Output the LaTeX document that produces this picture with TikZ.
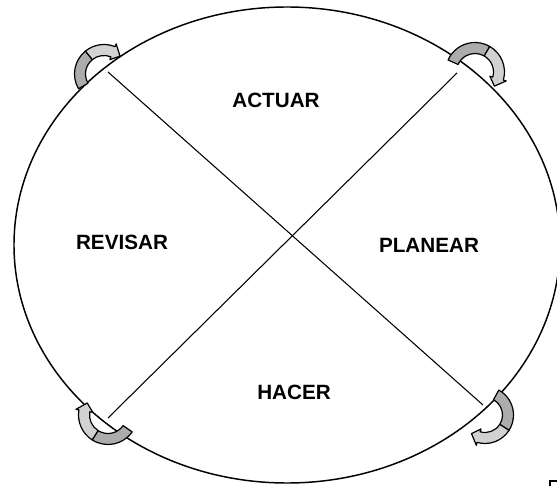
\documentclass[tikz,border=0pt]{standalone}
\usepackage{fontspec}
\setmainfont{Liberation Sans}
\begin{document}
\begin{tikzpicture}[x=0.75pt,y=0.75pt,
   lbl/.style={font=\fontsize{15.5}{18}\selectfont\bfseries},
   rim/.style={draw=black,line width=1.1pt},
   diag/.style={draw=black,line width=0.8pt},
   band/.style={draw=black,line width=0.9pt,line join=round}]
\useasboundingbox (0,0) rectangle (557,486);
% curved arrow: centre, start angle, end angle (clockwise), radius
\newcommand{\turn}[4]{\begin{scope}[shift={#1}]
  \pgfmathsetmacro{\amid}{(#2+#3)/2}\pgfmathsetmacro{\abase}{#3+20}
  \pgfmathsetmacro{\ro}{#4+5.5}\pgfmathsetmacro{\ri}{#4-5.5}
  \pgfmathsetmacro{\rho}{#4+8.5}\pgfmathsetmacro{\rhi}{#4-8.5}
  \filldraw[band,fill=gray!65] (#2:\ro) arc[start angle=#2,end angle=\amid,radius=\ro]
     -- (\amid:\ri) arc[start angle=\amid,end angle=#2,radius=\ri] -- cycle;
  \filldraw[band,fill=gray!35] (\amid:\ro) arc[start angle=\amid,end angle=\abase,radius=\ro]
     -- (\abase:\rho) -- (#3:#4) -- (\abase:\rhi) -- (\abase:\ri)
     arc[start angle=\abase,end angle=\amid,radius=\ri] -- cycle;
\end{scope}}
% outer ellipse
\draw[rim] (287,241) ellipse[x radius=273,y radius=238];
% diagonal ends
\coordinate (ul) at (108,414);
\coordinate (lr) at (483,81);
\coordinate (ur) at (457,413);
\coordinate (ll) at (108,68);
\draw[diag] (ul) -- (lr);
\draw[diag] (ur) -- (ll);
% the four stages
\node[lbl] (actuar)  at (276,386) {ACTUAR};
\node[lbl] (revisar) at (122,244) {REVISAR};
\node[lbl] (planear) at (429,241) {PLANEAR};
\node[lbl] (hacer)   at (294,94)  {HACER};
% turning arrows on the rim
\turn{(104,412)}{210}{48}{24}
\turn{(475,414)}{156}{-36}{24}
\turn{(485,71)}{61}{-126}{23}
\turn{(108,71)}{325}{150}{24}
% corner mark
\draw[line width=1.5pt] (550,0) -- (550,5) -- (557,5);
\end{tikzpicture}
\end{document}
